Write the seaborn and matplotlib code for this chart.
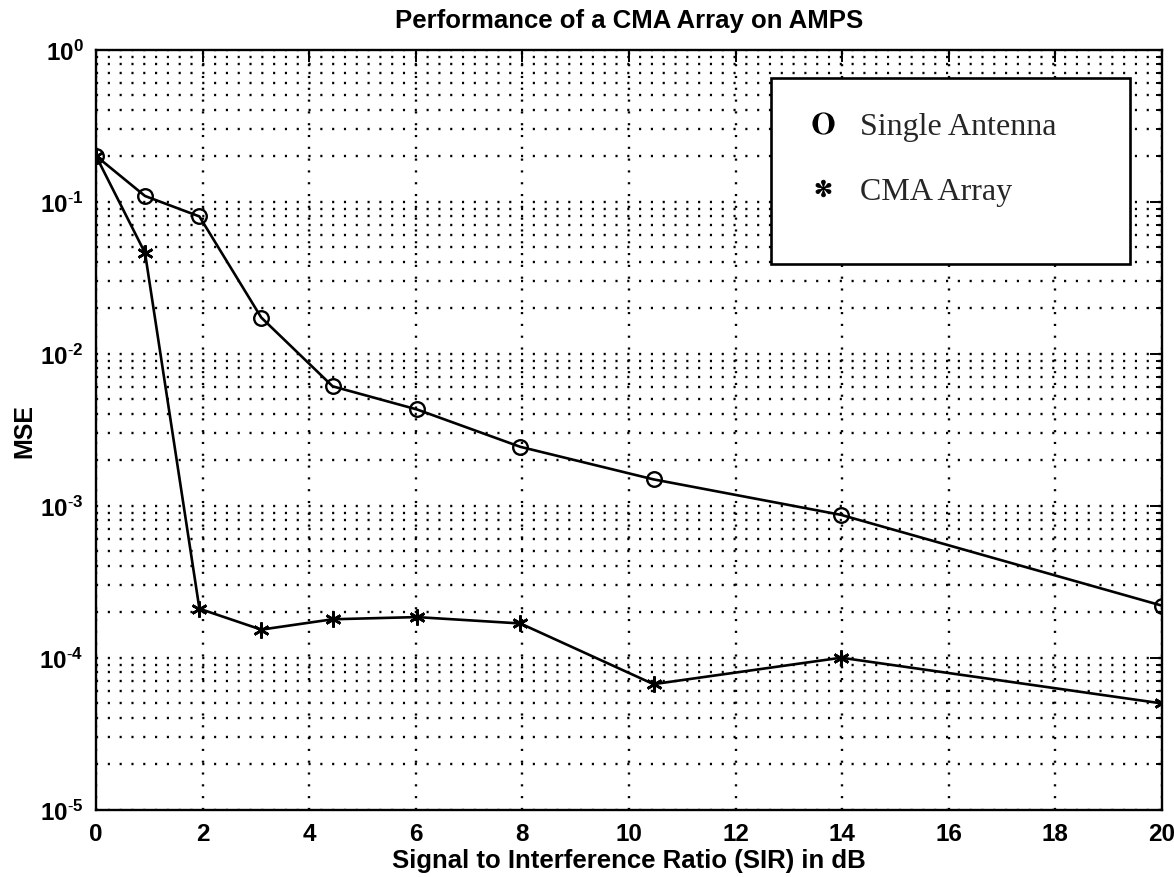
import numpy as np
import pandas as pd
import matplotlib
matplotlib.use("Agg")
import matplotlib.pyplot as plt
import seaborn as sns
from matplotlib.lines import Line2D
from matplotlib.patches import Rectangle
from matplotlib.ticker import LogLocator, FixedLocator, FuncFormatter

# Signal-to-interference ratio (dB) at which each run was evaluated
sir_db = [0.0, 0.92, 1.94, 3.10, 4.44, 6.02, 7.96, 10.46, 13.98, 20.0]
# Mean squared error for a single antenna receiver
mse_single = [0.2, 0.109, 0.080, 0.0173, 0.0061, 0.0043, 0.00244, 0.00149, 0.00087, 0.00022]
# Mean squared error for the constant-modulus (CMA) array
mse_cma = [0.2, 0.046, 0.00021, 0.000153, 0.000179, 0.000185, 0.000168, 0.000067, 0.000100, 0.000050]

x_ticks = [0, 2, 4, 6, 8, 10, 12, 14, 16, 18, 20]
series_names = ["Single Antenna", "CMA Array"]

sns.set_theme(style="white")
plt.rcParams["font.family"] = ["Liberation Sans", "DejaVu Sans"]
plt.rcParams["mathtext.default"] = "regular"
plt.rcParams["mathtext.fontset"] = "stix"
plt.rcParams["axes.unicode_minus"] = False

df = pd.DataFrame({"sir": sir_db, "single": mse_single, "cma": mse_cma})

fig = plt.figure(figsize=(11.74, 8.78), dpi=100)
ax = fig.add_axes([96 / 1174, 1 - 810.7 / 878, 1066 / 1174, 760 / 878])

sns.lineplot(data=df, x="sir", y="single", ax=ax, color="black", lw=1.9,
             marker="o", markersize=10.5, markerfacecolor="none",
             markeredgecolor="black", markeredgewidth=1.7, zorder=3)
sns.lineplot(data=df, x="sir", y="cma", ax=ax, color="black", lw=1.9,
             marker=(6, 2, 0), markersize=11.5, markeredgecolor="black",
             markeredgewidth=1.9, zorder=3)

ax.set_yscale("log")
ax.set_xlim(0, 20)
ax.set_ylim(1e-5, 1)

ax.xaxis.set_major_locator(FixedLocator(x_ticks))
ax.yaxis.set_major_locator(LogLocator(base=10, numticks=10))
ax.yaxis.set_minor_locator(LogLocator(base=10, subs=np.arange(2, 10), numticks=20))


def decade_label(v, pos):
    n = int(round(np.log10(v)))
    if n < 0:
        return r"$10^{\text{-}%d}$" % (-n)
    return r"$10^{%d}$" % n


ax.yaxis.set_major_formatter(FuncFormatter(decade_label))

dot = (0, (0.9, 4.1))
ax.grid(True, which="major", axis="x", color="black", lw=1.7, linestyle=dot)
ax.grid(True, which="both", axis="y", color="black", lw=1.7, linestyle=dot)
ax.set_axisbelow(True)

for s in ax.spines.values():
    s.set_linewidth(1.7)
    s.set_color("black")

ax.tick_params(axis="both", which="both", direction="in", top=True, right=True,
               colors="black", width=1.4)
ax.tick_params(axis="both", which="major", length=8.5, labelsize=17.5)
ax.tick_params(axis="y", which="minor", length=4.5, labelleft=False)
ax.tick_params(axis="x", which="major", pad=9)
ax.tick_params(axis="y", which="major", pad=9)
for lab in ax.get_xticklabels() + ax.get_yticklabels():
    lab.set_fontweight("bold")

ax.set_title("Performance of a CMA Array on AMPS", fontsize=18.5, fontweight="bold",
             color="black", pad=16)
ax.set_xlabel("Signal to Interference Ratio (SIR) in dB", fontsize=18.5,
              fontweight="bold", color="black")
ax.set_ylabel("MSE", fontsize=18, fontweight="bold", color="black")
ax.yaxis.set_label_coords(-0.056, 0.5)
ax.xaxis.set_label_coords(0.5, -0.050)

# legend box drawn as a framed white panel with two text-marker entries
def ax_x(px):
    return (px - 96) / 1066

def ax_y(py):
    return (810.7 - py) / 760

box = Rectangle((ax_x(771), ax_y(265)), ax_x(1130) - ax_x(771), ax_y(79) - ax_y(265),
                transform=ax.transAxes, facecolor="white", edgecolor="black",
                lw=1.9, zorder=5)
ax.add_patch(box)

handles = [
    Line2D([], [], ls="none", marker=r"$\mathbf{O}$", markersize=16,
           color="black", markeredgewidth=0),
    Line2D([], [], ls="none", marker=r"$\mathbf{*}$", markersize=12,
           color="black", markeredgewidth=0.6),
]
leg = ax.legend(handles, series_names, loc="upper left",
                bbox_to_anchor=(ax_x(801), ax_y(113)), bbox_transform=ax.transAxes,
                frameon=False, borderpad=0, borderaxespad=0, handlelength=1.4,
                handletextpad=0.45, labelspacing=1.1,
                prop={"family": "Liberation Serif", "size": 23})
leg.set_zorder(6)

fig.savefig("out.png", dpi=100, facecolor="white")
